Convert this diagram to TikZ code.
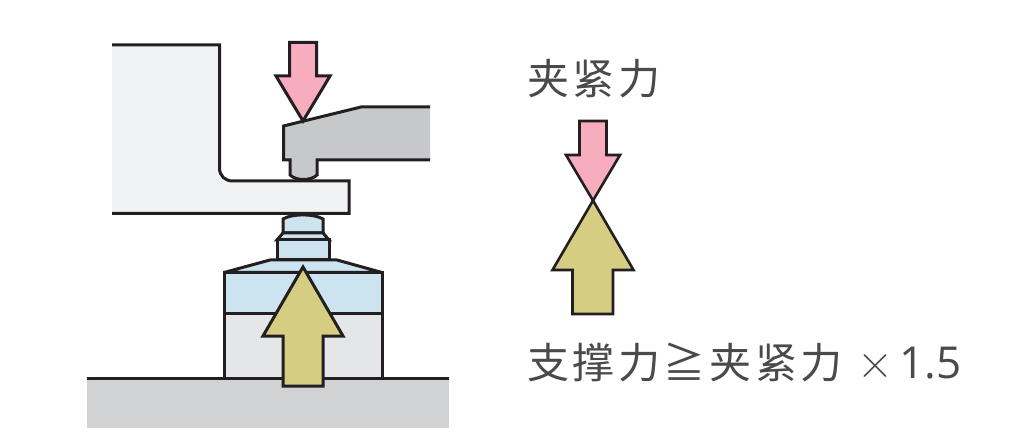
\documentclass[tikz,border=0pt]{standalone}
\usepackage{fontspec}
\usepackage{tikz}
\newfontfamily\cjkfont[LetterSpace=8.5]{Noto Sans CJK SC}
\newfontfamily\numfont{Open Sans}
\definecolor{linegray}{HTML}{231F20}
\definecolor{textgray}{HTML}{4A4A4A}
\definecolor{armgray}{HTML}{F1F2F4}
\definecolor{clampgray}{HTML}{C7C8CA}
\definecolor{basegray}{HTML}{D0D2D3}
\definecolor{bodygray}{HTML}{E5E6E8}
\definecolor{capblue}{HTML}{CBE4F0}
\definecolor{clamppink}{HTML}{F7ADBE}
\definecolor{supportyellow}{HTML}{D4CD82}
\tikzset{
    outline/.style={draw=linegray, line width=3pt, line join=miter},
    thinline/.style={draw=linegray, line width=2.6pt},
    forcetext/.style={anchor=west, inner sep=0pt, text=textgray, font=\fontsize{42}{42}\selectfont\cjkfont}
}
\begin{document}
\begin{tikzpicture}[x=1pt, y=-1pt]
    \useasboundingbox (0,0) rectangle (1014,446);
    \fill[white] (0,0) rectangle (1014,446);
    \fill[basegray] (87,378) rectangle (449,428);
    \fill[armgray] (112,45) -- (219.5,45) -- (219.5,168) .. controls (219.5,176) and (225,181) .. (233,181) -- (349,181) -- (349,213.5) -- (112,213.5) -- cycle;
    \draw[outline] (112,45) -- (219.5,45) -- (219.5,168) .. controls (219.5,176) and (225,181) .. (233,181) -- (349,181) -- (349,213.5) -- (112,213.5);
    \fill[clampgray] (430,107) -- (361,107) -- (283.5,126) -- (283.5,160) -- (290,160) -- (290,175) .. controls (296,181) and (311,181) .. (317,175) -- (317,160) -- (430,160) -- cycle;
    \draw[outline] (430,107) -- (361,107) -- (283.5,126) -- (283.5,160) -- (290,160) -- (290,175) .. controls (296,181) and (311,181) .. (317,175) -- (317,160) -- (430,160);
    \draw[outline, fill=capblue] (283,219) .. controls (292,213.5) and (314,213.5) .. (323,219) -- (323,233) -- (283,233) -- cycle;
    \draw[outline, fill=capblue] (283,233) -- (323,233) -- (329,240) -- (277,240) -- cycle;
    \draw[outline, fill=capblue] (277,240) rectangle (329,260);
    \draw[outline, fill=capblue, line join=bevel] (224,272.5) -- (270,260) -- (337,260) -- (382,272.5) -- cycle;
    \draw[outline, fill=capblue] (224,272.5) rectangle (382,313);
    \draw[outline, fill=bodygray] (224,313) rectangle (382,378);
    \draw[outline] (87,378) -- (449,378);
    \draw[outline, fill=clamppink] (289.5,42.5) -- (316.5,42.5) -- (316.5,76) -- (330,76) -- (303,121) -- (276,76) -- (289.5,76) -- cycle;
    \draw[outline, fill=supportyellow] (303,267) -- (343,336) -- (323,336) -- (323,386) -- (283,386) -- (283,336) -- (263,336) -- cycle;
    \draw[thinline, fill=clamppink] (579.5,121) -- (606.5,121) -- (606.5,155) -- (620,155) -- (593,200.5) -- (566,155) -- (579.5,155) -- cycle;
    \draw[thinline, fill=supportyellow] (593,200.5) -- (633.5,270) -- (613,270) -- (613,314) -- (572.5,314) -- (572.5,270) -- (552.5,270) -- cycle;
    \node[forcetext] (clamplabel) at (527,79) {夹紧力};
    \node[forcetext] (supportlabel) at (527,362) {支撑力≧夹紧力\hspace{15pt}{\rmfamily\fontsize{50}{50}\selectfont ×}\hspace{6pt}{\numfont\fontsize{44}{44}\selectfont 1.5}};
\end{tikzpicture}
\end{document}
